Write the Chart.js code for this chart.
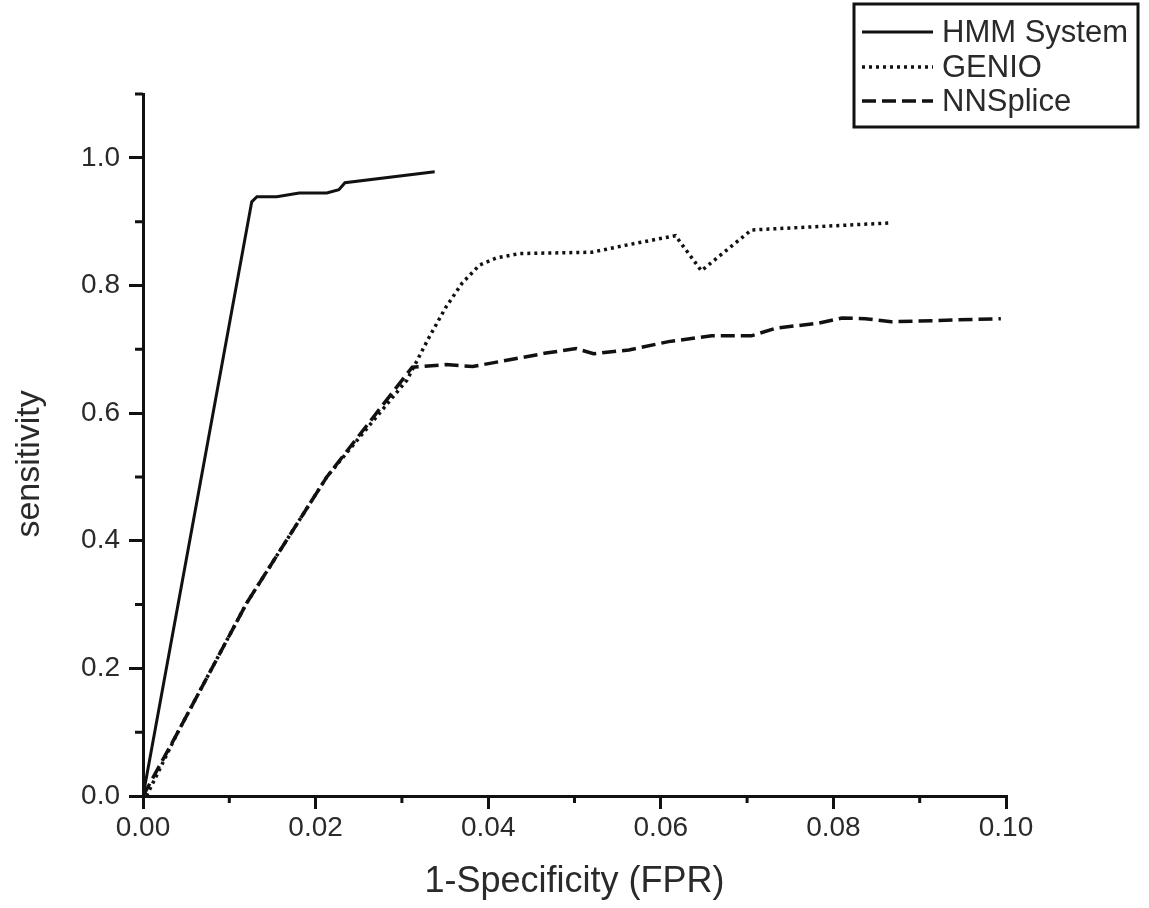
<!DOCTYPE html>
<html>
<head>
<meta charset="utf-8">
<script src="https://cdn.jsdelivr.net/npm/chart.js@4/dist/chart.umd.min.js"></script>
<style>
html,body{margin:0;padding:0;background:#fff;}
#wrap{width:1149px;height:908px;position:relative;}
</style>
</head>
<body>
<div id="wrap"><canvas id="c" width="1149" height="908"></canvas></div>
<script>
// ---- data ----
const seriesNames = ["HMM System", "GENIO", "NNSplice"];
const hmmFPR  = [0, 0.0126, 0.0132, 0.0155, 0.0181, 0.0213, 0.0227, 0.0234, 0.0338];
const hmmSens = [0, 0.931, 0.939, 0.939, 0.945, 0.945, 0.950, 0.961, 0.978];
const genioFPR  = [0.0004, 0.004, 0.012, 0.0213, 0.0306, 0.0332, 0.0351, 0.037, 0.039, 0.0409, 0.0436, 0.052, 0.0563, 0.0617, 0.0647, 0.0705, 0.0867];
const genioSens = [0, 0.099, 0.302, 0.50, 0.652, 0.72, 0.766, 0.804, 0.832, 0.843, 0.850, 0.852, 0.864, 0.878, 0.823, 0.887, 0.898];
const nnFPR  = [0, 0.004, 0.012, 0.0213, 0.0312, 0.0351, 0.0382, 0.0467, 0.0502, 0.0522, 0.0563, 0.0609, 0.0659, 0.0705, 0.0733, 0.0783, 0.081, 0.0837, 0.0867, 0.0994];
const nnSens = [0, 0.099, 0.302, 0.50, 0.672, 0.676, 0.673, 0.694, 0.701, 0.693, 0.699, 0.712, 0.721, 0.721, 0.733, 0.741, 0.749, 0.748, 0.743, 0.748];
const xMajorTicks = [0, 0.02, 0.04, 0.06, 0.08, 0.10];
const xMinorTicks = [0.01, 0.03, 0.05, 0.07, 0.09];
const yMajorTicks = [0, 0.2, 0.4, 0.6, 0.8, 1.0];
const yMinorTicks = [0.1, 0.3, 0.5, 0.7, 0.9, 1.1];
const xTitle = "1-Specificity (FPR)";
const yTitle = "sensitivity";

const pts = (xs, ys) => xs.map((x, i) => ({x: x, y: ys[i]}));
const INK = '#111';
const TXT = '#2a2a2a';
const FONT = "'Liberation Sans', Arial, Helvetica, sans-serif";

const minorTicks = {
  id: 'minorTicks',
  afterDraw(chart) {
    const ctx = chart.ctx, xs = chart.scales.x, ys = chart.scales.y;
    ctx.save();
    ctx.strokeStyle = INK; ctx.lineWidth = 3; ctx.setLineDash([]);
    ctx.beginPath();
    xMinorTicks.forEach(v => { const p = xs.getPixelForValue(v); ctx.moveTo(p, xs.top); ctx.lineTo(p, xs.top + 7); });
    yMinorTicks.forEach(v => { const p = ys.getPixelForValue(v); ctx.moveTo(ys.right - 8, p); ctx.lineTo(ys.right, p); });
    ctx.stroke();
    ctx.restore();
  }
};

const boxLegend = {
  id: 'boxLegend',
  afterDraw(chart) {
    const ctx = chart.ctx;
    const L = 854, T = 4, R = 1138, B = 127;
    ctx.save();
    ctx.strokeStyle = INK; ctx.lineWidth = 3; ctx.setLineDash([]);
    ctx.strokeRect(L, T, R - L, B - T);
    const rows = [32, 67, 101];
    chart.data.datasets.forEach((ds, i) => {
      const y = rows[i];
      ctx.beginPath();
      ctx.lineWidth = ds.borderWidth;
      ctx.strokeStyle = ds.borderColor;
      ctx.setLineDash(ds.borderDash || []);
      ctx.moveTo(862, y); ctx.lineTo(933, y);
      ctx.stroke();
      ctx.setLineDash([]);
      ctx.fillStyle = TXT;
      ctx.font = "31px " + FONT;
      ctx.textBaseline = 'middle';
      ctx.textAlign = 'left';
      ctx.fillText(ds.label, 942, y + 1);
    });
    ctx.restore();
  }
};

new Chart(document.getElementById('c'), {
  type: 'scatter',
  data: {
    datasets: [
      { label: seriesNames[0], data: pts(hmmFPR, hmmSens), showLine: true, borderColor: INK, borderWidth: 3, pointRadius: 0, borderDash: [] },
      { label: seriesNames[1], data: pts(genioFPR, genioSens), showLine: true, borderColor: INK, borderWidth: 3.5, pointRadius: 0, borderDash: [3, 4] },
      { label: seriesNames[2], data: pts(nnFPR, nnSens), showLine: true, borderColor: INK, borderWidth: 3.5, pointRadius: 0, borderDash: [14, 6] }
    ]
  },
  options: {
    responsive: false,
    animation: false,
    layout: { padding: { left: 0, right: 143, top: 94, bottom: 0 } },
    plugins: { legend: { display: false }, tooltip: { enabled: false } },
    scales: {
      x: {
        type: 'linear', min: 0, max: 0.1,
        afterFit(s) { s.height = 112; },
        afterBuildTicks(s) { s.ticks = xMajorTicks.map(v => ({value: v})); },
        ticks: { stepSize: 0.02, color: TXT, font: { family: FONT, size: 28 }, padding: 2, maxRotation: 0,
                 callback: v => Number(v).toFixed(2) },
        grid: { drawOnChartArea: false, drawTicks: true, tickLength: 13, lineWidth: 3, color: INK },
        border: { display: true, width: 3, color: INK },
        title: { display: true, text: xTitle, color: TXT, font: { family: FONT, size: 36 }, padding: { top: 0, bottom: 4 } }
      },
      y: {
        type: 'linear', min: 0, max: 1.1,
        afterFit(s) { s.width = 143; },
        afterBuildTicks(s) { s.ticks = yMajorTicks.map(v => ({value: v})); },
        ticks: { stepSize: 0.2, color: TXT, font: { family: FONT, size: 28 }, padding: 9,
                 callback: v => Number(v).toFixed(1) },
        grid: { drawOnChartArea: false, drawTicks: true, tickLength: 14, lineWidth: 3, color: INK },
        border: { display: true, width: 3, color: INK },
        title: { display: true, text: yTitle + "    ", color: TXT, font: { family: FONT, size: 34 }, padding: { top: 9, bottom: 0 } }
      }
    }
  },
  plugins: [minorTicks, boxLegend]
});
</script>
</body>
</html>
